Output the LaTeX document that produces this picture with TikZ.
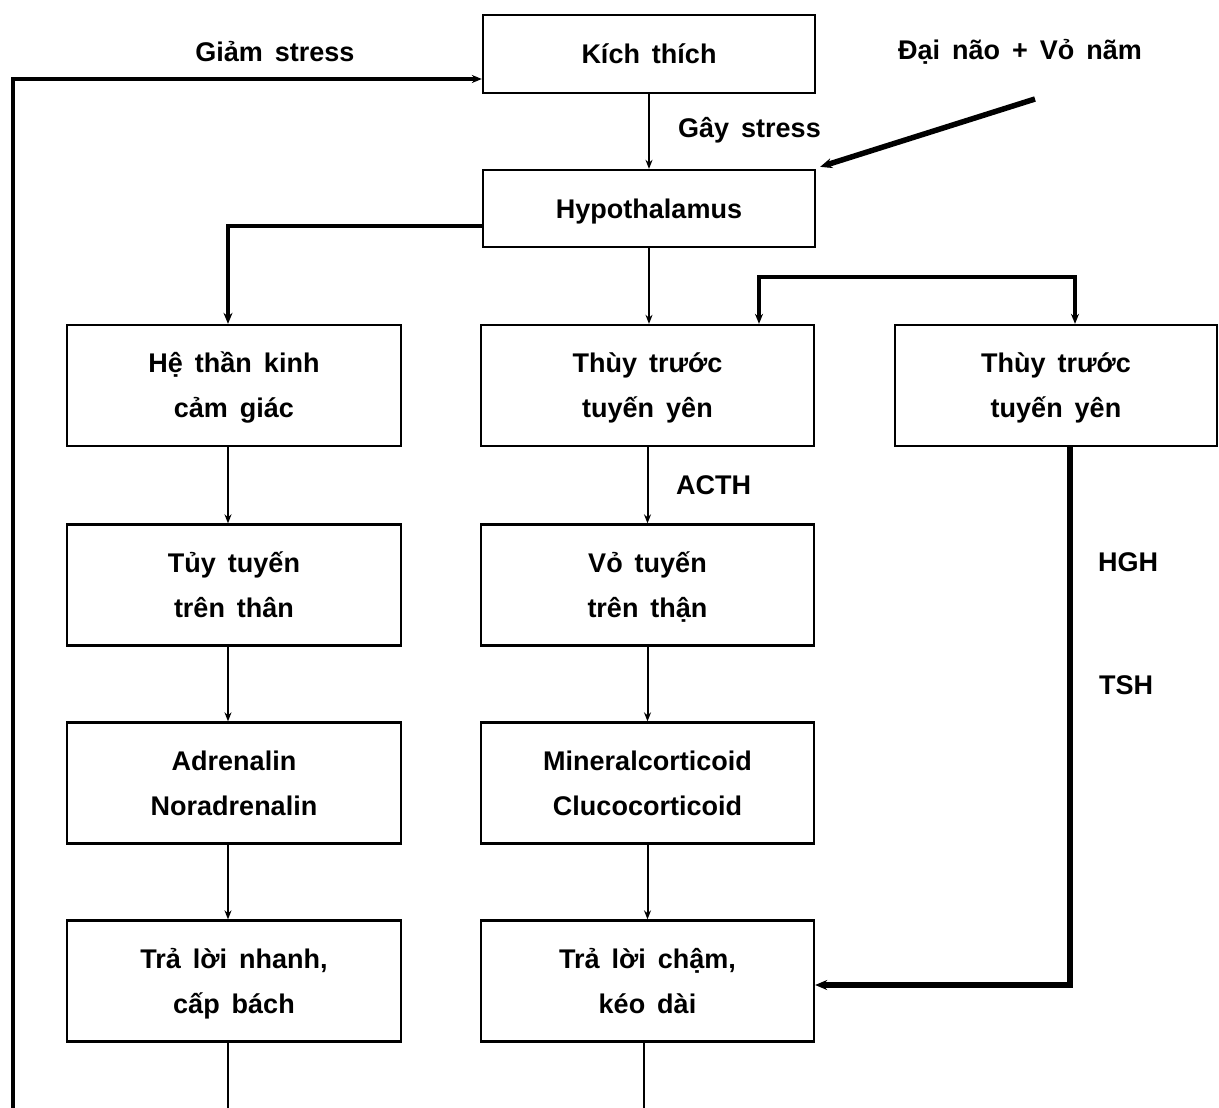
\documentclass[tikz,border=0pt]{standalone}
\usepackage{fontspec}
\setmainfont{Liberation Sans}[WordSpace=1.6]
\usetikzlibrary{arrows.meta,calc}

% struts that give every line the same height and depth
\newcommand\topstrut{\rule{0pt}{26pt}}
\newcommand\botstrut{\rule[-7pt]{0pt}{7pt}}

\begin{document}
\begin{tikzpicture}[x=1pt,y=-1pt,
  txt/.style={font=\fontsize{27}{45}\selectfont\bfseries, inner sep=0pt},
  box/.style={txt, draw, line width=2.3pt, align=center,
              minimum width=333pt, minimum height=121pt},
  thin/.style={line width=2pt, -{Stealth[length=9pt,width=7pt]}},
  plain/.style={line width=2pt},
  heavy/.style={line width=4pt, -{Stealth[length=11pt,width=9pt]}},
  heavier/.style={line width=5.5pt, -{Stealth[length=12pt,width=10pt]}}
]
\useasboundingbox (0,0) rectangle (1219,1108);

% top boxes
\node[box, minimum width=332pt, minimum height=78pt] (kich) at (649,54) {\topstrut Kích thích\botstrut};
\node[box, minimum width=332pt, minimum height=77pt] (hypo) at (649,208.5) {\topstrut Hypothalamus\botstrut};

% left column
\node[box, minimum width=334pt] (he)    at (234,385.5) {\topstrut Hệ thần kinh\\cảm giác\botstrut};
\node[box, minimum width=334pt] (tuy)   at (234,585)   {\topstrut Tủy tuyến\\trên thân\botstrut};
\node[box, minimum width=334pt] (adr)   at (234,783)   {\topstrut Adrenalin\\Noradrenalin\botstrut};
\node[box, minimum width=334pt] (nhanh) at (234,981)   {\topstrut Trả lời nhanh,\\cấp bách\botstrut};

% middle column
\node[box] (thuy) at (647.5,385.5) {\topstrut Thùy trước\\tuyến yên\botstrut};
\node[box] (vo)   at (647.5,585)   {\topstrut Vỏ tuyến\\trên thận\botstrut};
\node[box] (mine) at (647.5,783)   {\topstrut Mineralcorticoid\\Clucocorticoid\botstrut};
\node[box] (cham) at (647.5,981)   {\topstrut Trả lời chậm,\\kéo dài\botstrut};

% right box
\node[box, minimum width=322pt] (thuyb) at (1056,385.5) {\topstrut Thùy trước\\tuyến yên\botstrut};

% labels
\node[txt] (giam) at (275,52) {Giảm stress};
\node[txt] (dainao) at (1020,52) {Đại não + Vỏ nãm};
\node[txt, anchor=west] (gay) at (678,130) {Gây stress};
\node[txt, anchor=west] (acth) at (676,485) {ACTH};
\node[txt, anchor=west] (hgh) at (1098,562) {HGH};
\node[txt, anchor=west] (tsh) at (1099,685) {TSH};

% free ends
\coordinate (fb) at (13,1108);
\coordinate (outl) at (228,1108);
\coordinate (outm) at (644,1108);
\coordinate (dn) at (1035,99);

% main chain
\draw[thin] (kich) -- (hypo);
\draw[thin] (hypo.south) -- (hypo.south |- thuy.north);
\draw[heavy] ([yshift=-17pt]hypo.west) -| ([xshift=-6pt]he.north);
\draw[heavier] (dn) -- ([shift={(4pt,2pt)}]hypo.north east);

% left column links
\draw[thin] ([xshift=-6pt]he.south) -- ([xshift=-6pt]tuy.north);
\draw[thin] ([xshift=-6pt]tuy.south) -- ([xshift=-6pt]adr.north);
\draw[thin] ([xshift=-6pt]adr.south) -- ([xshift=-6pt]nhanh.north);
\draw[plain] ([xshift=-6pt]nhanh.south) -- (outl);

% middle column links
\draw[thin] (thuy.south) -- (vo.north);
\draw[thin] (vo.south) -- (mine.north);
\draw[thin] (mine.south) -- (cham.north);
\draw[plain] ([xshift=-3.5pt]cham.south) -- (outm);

% bracket between the two pituitary boxes
\draw[line width=4pt, {Stealth[length=10pt,width=8pt]}-{Stealth[length=10pt,width=8pt]}]
  ([xshift=111.5pt]thuy.north) -- ++(0,-47) -| ([xshift=19pt]thuyb.north);

% right branch back to the slow response
\draw[heavier] ([xshift=14pt]thuyb.south) |- ([yshift=-4pt]cham.east);

% feedback loop
\draw[line width=3.2pt, -{Stealth[length=10pt,width=8pt]}] (fb) |- ([yshift=-25pt]kich.west);
\end{tikzpicture}
\end{document}
